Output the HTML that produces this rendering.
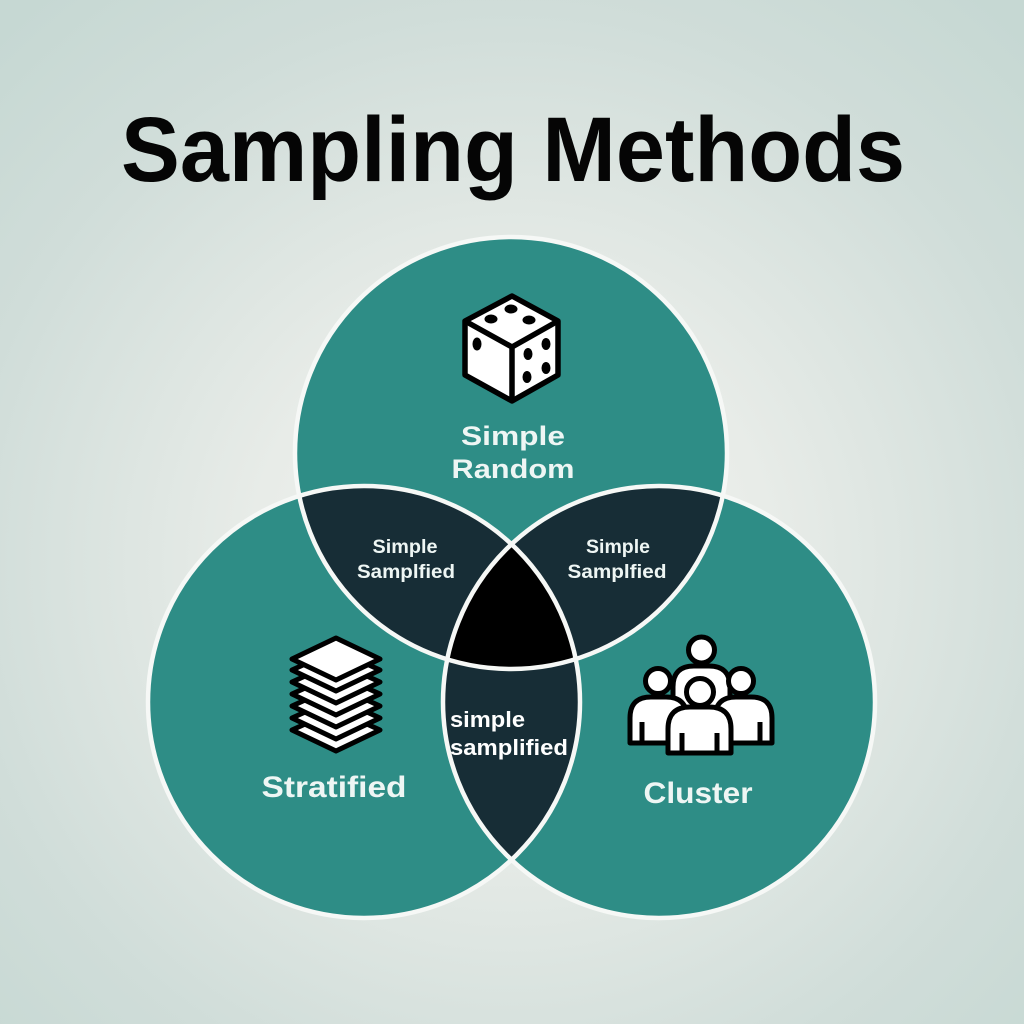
<!DOCTYPE html>
<html><head><meta charset="utf-8"><style>
html,body{margin:0;padding:0;width:1024px;height:1024px;overflow:hidden;}
svg{display:block;}
</style></head><body>
<svg width="1024" height="1024" viewBox="0 0 1024 1024" xmlns="http://www.w3.org/2000/svg">
<defs>
<radialGradient id="bg" cx="50%" cy="55%" r="72%">
<stop offset="0" stop-color="#f4f5f2"/>
<stop offset="0.35" stop-color="#e8ece8"/>
<stop offset="0.75" stop-color="#d0ddd9"/>
<stop offset="1" stop-color="#c6d8d3"/>
</radialGradient>
<clipPath id="cT"><circle cx="511" cy="453" r="216"/></clipPath>
<clipPath id="cL"><circle cx="364" cy="702" r="216"/></clipPath>
<clipPath id="cR"><circle cx="659" cy="702" r="216"/></clipPath>
</defs>
<rect width="1024" height="1024" fill="url(#bg)"/>

<text x="513" y="181" font-family="Liberation Sans, sans-serif" font-weight="bold" font-size="92" text-anchor="middle" textLength="784" lengthAdjust="spacingAndGlyphs" fill="#050505">Sampling Methods</text>

<!-- circles -->
<circle cx="511" cy="453" r="216" fill="#2e8d86"/>
<circle cx="364" cy="702" r="216" fill="#2e8d86"/>
<circle cx="659" cy="702" r="216" fill="#2e8d86"/>
<!-- pairwise -->
<g clip-path="url(#cT)"><circle cx="364" cy="702" r="216" fill="#172d36"/><circle cx="659" cy="702" r="216" fill="#172d36"/></g>
<g clip-path="url(#cL)"><circle cx="659" cy="702" r="216" fill="#172d36"/></g>
<!-- triple -->
<g clip-path="url(#cT)"><g clip-path="url(#cL)"><circle cx="659" cy="702" r="216" fill="#000"/></g></g>
<!-- outlines -->
<g fill="none" stroke="#f6f8f6" stroke-width="4.5">
<circle cx="511" cy="453" r="216"/>
<circle cx="364" cy="702" r="216"/>
<circle cx="659" cy="702" r="216"/>
</g>

<!-- dice -->
<g stroke="#000" stroke-width="5.5" stroke-linejoin="round" fill="#fff">
<polygon points="512,296 558,321 558,375 512,401 465,375 465,321"/>
<polyline points="465,321 512,347 558,321" fill="none"/>
<line x1="512" y1="347" x2="512" y2="401"/>
</g>
<g fill="#000">
<ellipse cx="511" cy="309" rx="6.5" ry="4.5"/>
<ellipse cx="491" cy="319" rx="6.5" ry="4.5"/>
<ellipse cx="529" cy="320" rx="6.5" ry="4.5"/>
<ellipse cx="477" cy="344" rx="4.5" ry="6.5"/>
<ellipse cx="546" cy="344" rx="4.5" ry="6"/>
<ellipse cx="528" cy="354" rx="4.5" ry="6"/>
<ellipse cx="546" cy="368" rx="4.5" ry="6"/>
<ellipse cx="527" cy="377" rx="4.5" ry="6"/>
</g>

<g font-family="Liberation Sans, sans-serif" font-weight="bold" fill="#eef6f4" text-anchor="middle">
<text x="513" y="445" font-size="27" textLength="104" lengthAdjust="spacingAndGlyphs">Simple</text>
<text x="513" y="478" font-size="27" textLength="123" lengthAdjust="spacingAndGlyphs">Random</text>
<text x="405" y="553" font-size="19" textLength="65" lengthAdjust="spacingAndGlyphs">Simple</text>
<text x="406" y="578" font-size="19" textLength="98" lengthAdjust="spacingAndGlyphs">Samplfied</text>
<text x="618" y="553" font-size="19" textLength="64" lengthAdjust="spacingAndGlyphs">Simple</text>
<text x="617" y="578" font-size="19" textLength="99" lengthAdjust="spacingAndGlyphs">Samplfied</text>
<text x="334" y="797" font-size="30" textLength="145" lengthAdjust="spacingAndGlyphs">Stratified</text>
<text x="698" y="803" font-size="30" textLength="109" lengthAdjust="spacingAndGlyphs">Cluster</text>
</g>
<g font-family="Liberation Sans, sans-serif" font-weight="bold" fill="#ffffff">
<text x="450" y="727" font-size="22" textLength="75" lengthAdjust="spacingAndGlyphs">simple</text>
<text x="450" y="755" font-size="22" textLength="118" lengthAdjust="spacingAndGlyphs">samplified</text>
</g>

<!-- stack icon -->
<g stroke="#000" stroke-width="5" stroke-linejoin="round" fill="#fff">
<polygon points="336,710 380,730 336,751 292,730"/>
<polygon points="336,698 380,718 336,739 292,718"/>
<polygon points="336,686 380,706 336,727 292,706"/>
<polygon points="336,674 380,694 336,715 292,694"/>
<polygon points="336,662 380,682 336,703 292,682"/>
<polygon points="336,650 380,670 336,691 292,670"/>
<polygon points="336,638 380,659 336,680 292,659"/>
</g>

<!-- cluster icon -->
<g stroke="#000" stroke-width="5" stroke-linejoin="round" fill="#fff">
<!-- back person -->
<path d="M673,720 L673,687 Q673,666 694,666 L709,666 Q730,666 730,687 L730,720 Z"/>
<circle cx="701.5" cy="650" r="13"/>
<!-- left person -->
<path d="M630,743 L630,718 Q630,697 651,697 L666,697 Q687,697 687,718 L687,743 Z"/>
<circle cx="658" cy="681" r="12.5"/>
<line x1="642" y1="722" x2="642" y2="742"/>
<!-- right person -->
<path d="M715,743 L715,718 Q715,697 736,697 L751,697 Q772,697 772,718 L772,743 Z"/>
<circle cx="741" cy="681" r="12.5"/>
<line x1="760" y1="722" x2="760" y2="742"/>
<!-- front person -->
<path d="M668,753 L668,729 Q668,707 690,707 L709,707 Q731,707 731,729 L731,753 Z"/>
<circle cx="700" cy="692" r="13.5"/>
<line x1="682" y1="733" x2="682" y2="752"/>
<line x1="717" y1="733" x2="717" y2="752"/>
</g>
</svg>
</body></html>
